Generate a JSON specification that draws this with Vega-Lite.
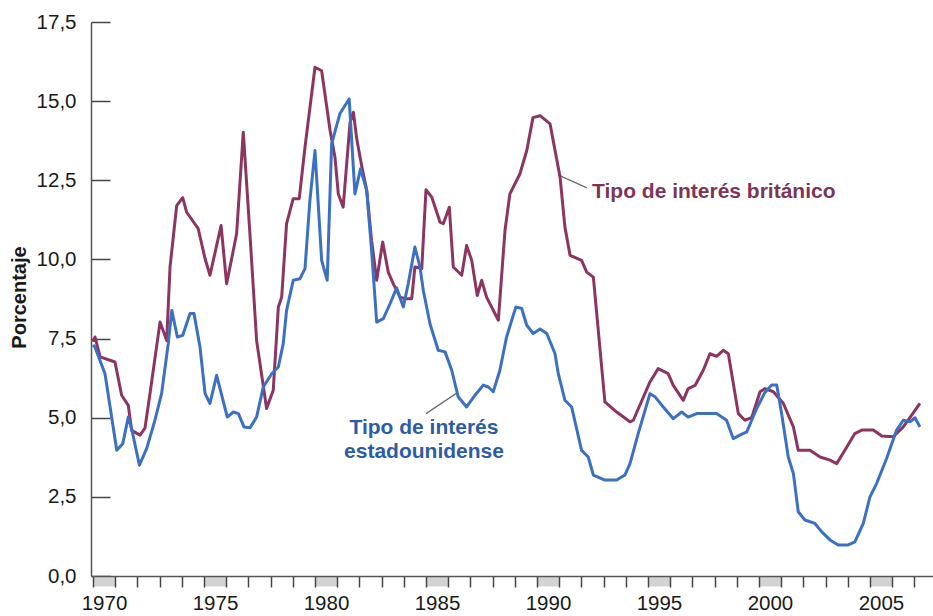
{
  "$schema": "https://vega.github.io/schema/vega-lite/v6.json",
  "width": 842,
  "height": 554,
  "autosize": {"type": "none"},
  "padding": {"left": 91, "top": 22, "right": 0, "bottom": 40},
  "background": "white",
  "config": {"view": {"stroke": null}, "font": "Liberation Sans"},
  "datasets": {
    "bands": [
      {"start": 1970, "end": 1971}, {"start": 1975, "end": 1976}, {"start": 1980, "end": 1981}, {"start": 1985, "end": 1986},
      {"start": 1990, "end": 1991}, {"start": 1995, "end": 1996}, {"start": 2000, "end": 2001}, {"start": 2005, "end": 2006}
    ],
    "rates": [
      {"series":"UK","year":1970.0,"rate":7.4},{"series":"UK","year":1970.09,"rate":7.55},{"series":"UK","year":1970.32,"rate":6.92},{"series":"UK","year":1970.99,"rate":6.76},{"series":"UK","year":1971.29,"rate":5.71},{"series":"UK","year":1971.59,"rate":5.39},{"series":"UK","year":1971.74,"rate":4.6},{"series":"UK","year":1972.12,"rate":4.45},{"series":"UK","year":1972.34,"rate":4.67},{"series":"UK","year":1972.57,"rate":5.77},{"series":"UK","year":1973.02,"rate":8.02},{"series":"UK","year":1973.32,"rate":7.44},{"series":"UK","year":1973.47,"rate":9.76},{"series":"UK","year":1973.77,"rate":11.7},{"series":"UK","year":1974.04,"rate":11.95},{"series":"UK","year":1974.22,"rate":11.49},{"series":"UK","year":1974.74,"rate":10.97},{"series":"UK","year":1975.05,"rate":10.02},{"series":"UK","year":1975.27,"rate":9.5},{"series":"UK","year":1975.77,"rate":11.07},{"series":"UK","year":1976.02,"rate":9.23},{"series":"UK","year":1976.47,"rate":10.81},{"series":"UK","year":1976.77,"rate":14.02},{"series":"UK","year":1977.07,"rate":10.8},{"series":"UK","year":1977.37,"rate":7.44},{"series":"UK","year":1977.82,"rate":5.29},{"series":"UK","year":1978.12,"rate":5.87},{"series":"UK","year":1978.35,"rate":8.5},{"series":"UK","year":1978.5,"rate":8.81},{"series":"UK","year":1978.72,"rate":11.13},{"series":"UK","year":1979.02,"rate":11.92},{"series":"UK","year":1979.29,"rate":11.92},{"series":"UK","year":1979.55,"rate":13.55},{"series":"UK","year":1980.0,"rate":16.07},{"series":"UK","year":1980.3,"rate":15.96},{"series":"UK","year":1980.68,"rate":14.07},{"series":"UK","year":1980.9,"rate":13.23},{"series":"UK","year":1981.05,"rate":12.07},{"series":"UK","year":1981.27,"rate":11.65},{"series":"UK","year":1981.58,"rate":14.33},{"series":"UK","year":1981.73,"rate":14.65},{"series":"UK","year":1981.88,"rate":13.81},{"series":"UK","year":1982.1,"rate":12.97},{"series":"UK","year":1982.33,"rate":12.18},{"series":"UK","year":1982.55,"rate":10.6},{"series":"UK","year":1982.78,"rate":9.34},{"series":"UK","year":1983.05,"rate":10.55},{"series":"UK","year":1983.3,"rate":9.6},{"series":"UK","year":1983.53,"rate":9.23},{"series":"UK","year":1983.83,"rate":8.81},{"series":"UK","year":1984.05,"rate":8.76},{"series":"UK","year":1984.36,"rate":8.76},{"series":"UK","year":1984.5,"rate":9.76},{"series":"UK","year":1984.81,"rate":9.71},{"series":"UK","year":1985.0,"rate":12.2},{"series":"UK","year":1985.26,"rate":11.97},{"series":"UK","year":1985.63,"rate":11.18},{"series":"UK","year":1985.78,"rate":11.13},{"series":"UK","year":1986.05,"rate":11.65},{"series":"UK","year":1986.23,"rate":9.76},{"series":"UK","year":1986.61,"rate":9.5},{"series":"UK","year":1986.83,"rate":10.44},{"series":"UK","year":1987.06,"rate":9.97},{"series":"UK","year":1987.31,"rate":8.86},{"series":"UK","year":1987.51,"rate":9.34},{"series":"UK","year":1987.73,"rate":8.81},{"series":"UK","year":1988.26,"rate":8.08},{"series":"UK","year":1988.56,"rate":10.92},{"series":"UK","year":1988.78,"rate":12.07},{"series":"UK","year":1989.23,"rate":12.7},{"series":"UK","year":1989.54,"rate":13.44},{"series":"UK","year":1989.82,"rate":14.48},{"series":"UK","year":1990.14,"rate":14.54},{"series":"UK","year":1990.59,"rate":14.28},{"series":"UK","year":1991.04,"rate":12.6},{"series":"UK","year":1991.26,"rate":11.02},{"series":"UK","year":1991.49,"rate":10.13},{"series":"UK","year":1992.01,"rate":9.97},{"series":"UK","year":1992.24,"rate":9.6},{"series":"UK","year":1992.54,"rate":9.44},{"series":"UK","year":1993.06,"rate":5.5},{"series":"UK","year":1993.59,"rate":5.18},{"series":"UK","year":1994.19,"rate":4.87},{"series":"UK","year":1994.34,"rate":4.92},{"series":"UK","year":1995.09,"rate":6.13},{"series":"UK","year":1995.46,"rate":6.55},{"series":"UK","year":1995.91,"rate":6.39},{"series":"UK","year":1996.14,"rate":6.02},{"series":"UK","year":1996.59,"rate":5.55},{"series":"UK","year":1996.81,"rate":5.92},{"series":"UK","year":1997.12,"rate":6.02},{"series":"UK","year":1997.49,"rate":6.5},{"series":"UK","year":1997.79,"rate":7.02},{"series":"UK","year":1998.09,"rate":6.94},{"series":"UK","year":1998.39,"rate":7.13},{"series":"UK","year":1998.62,"rate":7.02},{"series":"UK","year":1999.07,"rate":5.13},{"series":"UK","year":1999.37,"rate":4.92},{"series":"UK","year":1999.67,"rate":5.0},{"series":"UK","year":2000.05,"rate":5.82},{"series":"UK","year":2000.27,"rate":5.92},{"series":"UK","year":2000.65,"rate":5.82},{"series":"UK","year":2001.1,"rate":5.45},{"series":"UK","year":2001.55,"rate":4.71},{"series":"UK","year":2001.77,"rate":3.97},{"series":"UK","year":2002.3,"rate":3.97},{"series":"UK","year":2002.75,"rate":3.76},{"series":"UK","year":2003.2,"rate":3.66},{"series":"UK","year":2003.5,"rate":3.55},{"series":"UK","year":2003.87,"rate":3.97},{"series":"UK","year":2004.32,"rate":4.5},{"series":"UK","year":2004.63,"rate":4.61},{"series":"UK","year":2005.15,"rate":4.61},{"series":"UK","year":2005.53,"rate":4.42},{"series":"UK","year":2006.05,"rate":4.4},{"series":"UK","year":2006.5,"rate":4.71},{"series":"UK","year":2006.88,"rate":5.08},{"series":"UK","year":2007.25,"rate":5.45},
      {"series":"US","year":1970.0,"rate":7.3},{"series":"US","year":1970.09,"rate":7.23},{"series":"US","year":1970.54,"rate":6.39},{"series":"US","year":1971.07,"rate":3.97},{"series":"US","year":1971.34,"rate":4.18},{"series":"US","year":1971.59,"rate":5.02},{"series":"US","year":1971.74,"rate":4.66},{"series":"US","year":1972.09,"rate":3.5},{"series":"US","year":1972.42,"rate":4.03},{"series":"US","year":1972.79,"rate":4.92},{"series":"US","year":1973.09,"rate":5.76},{"series":"US","year":1973.39,"rate":7.34},{"series":"US","year":1973.55,"rate":8.39},{"series":"US","year":1973.8,"rate":7.55},{"series":"US","year":1974.04,"rate":7.6},{"series":"US","year":1974.37,"rate":8.29},{"series":"US","year":1974.55,"rate":8.29},{"series":"US","year":1974.82,"rate":7.23},{"series":"US","year":1975.05,"rate":5.76},{"series":"US","year":1975.27,"rate":5.45},{"series":"US","year":1975.57,"rate":6.34},{"series":"US","year":1976.05,"rate":5.02},{"series":"US","year":1976.32,"rate":5.18},{"series":"US","year":1976.55,"rate":5.13},{"series":"US","year":1976.8,"rate":4.71},{"series":"US","year":1977.07,"rate":4.68},{"series":"US","year":1977.37,"rate":5.02},{"series":"US","year":1977.67,"rate":5.97},{"series":"US","year":1978.05,"rate":6.39},{"series":"US","year":1978.35,"rate":6.6},{"series":"US","year":1978.57,"rate":7.34},{"series":"US","year":1978.72,"rate":8.39},{"series":"US","year":1979.02,"rate":9.34},{"series":"US","year":1979.32,"rate":9.39},{"series":"US","year":1979.55,"rate":9.71},{"series":"US","year":1979.77,"rate":11.86},{"series":"US","year":1980.0,"rate":13.44},{"series":"US","year":1980.3,"rate":9.97},{"series":"US","year":1980.55,"rate":9.34},{"series":"US","year":1980.75,"rate":13.65},{"series":"US","year":1981.12,"rate":14.6},{"series":"US","year":1981.54,"rate":15.07},{"series":"US","year":1981.8,"rate":12.07},{"series":"US","year":1982.05,"rate":12.86},{"series":"US","year":1982.33,"rate":12.18},{"series":"US","year":1982.55,"rate":10.28},{"series":"US","year":1982.78,"rate":8.02},{"series":"US","year":1983.08,"rate":8.13},{"series":"US","year":1983.38,"rate":8.6},{"series":"US","year":1983.68,"rate":9.1},{"series":"US","year":1983.98,"rate":8.5},{"series":"US","year":1984.2,"rate":9.23},{"series":"US","year":1984.5,"rate":10.39},{"series":"US","year":1984.73,"rate":9.76},{"series":"US","year":1984.88,"rate":9.02},{"series":"US","year":1985.18,"rate":7.97},{"series":"US","year":1985.55,"rate":7.13},{"series":"US","year":1985.86,"rate":7.08},{"series":"US","year":1986.16,"rate":6.5},{"series":"US","year":1986.45,"rate":5.66},{"series":"US","year":1986.83,"rate":5.34},{"series":"US","year":1987.21,"rate":5.71},{"series":"US","year":1987.58,"rate":6.03},{"series":"US","year":1987.81,"rate":5.97},{"series":"US","year":1988.03,"rate":5.82},{"series":"US","year":1988.33,"rate":6.5},{"series":"US","year":1988.63,"rate":7.55},{"series":"US","year":1989.05,"rate":8.5},{"series":"US","year":1989.31,"rate":8.45},{"series":"US","year":1989.54,"rate":7.92},{"series":"US","year":1989.83,"rate":7.66},{"series":"US","year":1990.14,"rate":7.8},{"series":"US","year":1990.44,"rate":7.66},{"series":"US","year":1990.81,"rate":7.03},{"series":"US","year":1990.96,"rate":6.39},{"series":"US","year":1991.26,"rate":5.55},{"series":"US","year":1991.56,"rate":5.34},{"series":"US","year":1992.01,"rate":3.97},{"series":"US","year":1992.31,"rate":3.76},{"series":"US","year":1992.54,"rate":3.19},{"series":"US","year":1993.06,"rate":3.03},{"series":"US","year":1993.59,"rate":3.03},{"series":"US","year":1993.96,"rate":3.19},{"series":"US","year":1994.19,"rate":3.55},{"series":"US","year":1994.56,"rate":4.5},{"series":"US","year":1995.09,"rate":5.76},{"series":"US","year":1995.32,"rate":5.66},{"series":"US","year":1995.69,"rate":5.34},{"series":"US","year":1996.14,"rate":4.97},{"series":"US","year":1996.52,"rate":5.18},{"series":"US","year":1996.81,"rate":5.02},{"series":"US","year":1997.19,"rate":5.13},{"series":"US","year":1998.09,"rate":5.13},{"series":"US","year":1998.54,"rate":4.92},{"series":"US","year":1998.84,"rate":4.34},{"series":"US","year":1999.14,"rate":4.45},{"series":"US","year":1999.45,"rate":4.55},{"series":"US","year":1999.9,"rate":5.3},{"series":"US","year":2000.27,"rate":5.8},{"series":"US","year":2000.57,"rate":6.03},{"series":"US","year":2000.8,"rate":6.03},{"series":"US","year":2001.02,"rate":5.13},{"series":"US","year":2001.32,"rate":3.76},{"series":"US","year":2001.55,"rate":3.24},{"series":"US","year":2001.77,"rate":2.03},{"series":"US","year":2002.07,"rate":1.77},{"series":"US","year":2002.52,"rate":1.66},{"series":"US","year":2002.82,"rate":1.4},{"series":"US","year":2003.2,"rate":1.14},{"series":"US","year":2003.57,"rate":0.98},{"series":"US","year":2004.02,"rate":0.98},{"series":"US","year":2004.32,"rate":1.08},{"series":"US","year":2004.7,"rate":1.66},{"series":"US","year":2005.0,"rate":2.5},{"series":"US","year":2005.3,"rate":2.92},{"series":"US","year":2005.75,"rate":3.71},{"series":"US","year":2006.2,"rate":4.61},{"series":"US","year":2006.5,"rate":4.92},{"series":"US","year":2006.8,"rate":4.87},{"series":"US","year":2007.03,"rate":5.0},{"series":"US","year":2007.25,"rate":4.71}
    ],
    "labels": [
      {"series": "UK", "year": 1992.48, "rate": 12.13, "text": "Tipo de interés británico"},
      {"series": "US", "year": 1984.91, "rate": 4.67, "text": "Tipo de interés"},
      {"series": "US", "year": 1984.91, "rate": 3.92, "text": "estadounidense"}
    ],
    "leaders": [
      {"year": 1990.95, "rate": 12.67, "year2": 1992.25, "rate2": 12.26},
      {"year": 1985.0, "rate": 5.13, "year2": 1986.35, "rate2": 5.76}
    ]
  },
  "layer": [
    {
      "data": {"name": "bands"},
      "mark": {"type": "rect", "color": "#d3d3d3"},
      "encoding": {
        "x": {"field": "start", "type": "quantitative"},
        "x2": {"field": "end"},
        "y": {"datum": 0, "type": "quantitative"},
        "y2": {"datum": -0.33}
      }
    },
    {
      "data": {"name": "leaders"},
      "mark": {"type": "rule", "color": "#6e6e6e", "strokeWidth": 1.3},
      "encoding": {
        "x": {"field": "year", "type": "quantitative"},
        "y": {"field": "rate", "type": "quantitative"},
        "x2": {"field": "year2"},
        "y2": {"field": "rate2"}
      }
    },
    {
      "data": {"name": "rates"},
      "mark": {"type": "line", "strokeWidth": 3, "strokeJoin": "round"},
      "encoding": {
        "x": {"field": "year", "type": "quantitative"},
        "y": {"field": "rate", "type": "quantitative"},
        "color": {"field": "series", "type": "nominal", "scale": {"domain": ["UK", "US"], "range": ["#8c3561", "#3b70c3"]}, "legend": null}
      }
    },
    {
      "data": {"name": "labels"},
      "transform": [{"filter": "datum.series == 'UK'"}],
      "mark": {"type": "text", "align": "left", "baseline": "middle", "fontSize": 21, "fontWeight": "bold", "color": "#7b3558"},
      "encoding": {
        "x": {"field": "year", "type": "quantitative"},
        "y": {"field": "rate", "type": "quantitative"},
        "text": {"field": "text"}
      }
    },
    {
      "data": {"name": "labels"},
      "transform": [{"filter": "datum.series == 'US'"}],
      "mark": {"type": "text", "align": "center", "baseline": "middle", "fontSize": 21, "fontWeight": "bold", "color": "#2d5ca6"},
      "encoding": {
        "x": {"field": "year", "type": "quantitative"},
        "y": {"field": "rate", "type": "quantitative"},
        "text": {"field": "text"}
      }
    }
  ],
  "encoding": {
    "x": {
      "type": "quantitative",
      "scale": {"domain": [1969.91, 2007.84], "nice": false, "zero": false},
      "axis": {
        "values": [1970,1971,1972,1973,1974,1975,1976,1977,1978,1979,1980,1981,1982,1983,1984,1985,1986,1987,1988,1989,1990,1991,1992,1993,1994,1995,1996,1997,1998,1999,2000,2001,2002,2003,2004,2005,2006,2007],
        "format": "d",
        "labelExpr": "datum.value % 5 == 0 ? datum.label : ''",
        "labelOffset": 11,
        "labelFontSize": 20.5,
        "labelColor": "#1a1a1a",
        "labelPadding": 6,
        "labelFlush": false,
        "labelOverlap": false,
        "tickSize": 11,
        "tickColor": "#444",
        "tickWidth": 1.5,
        "domainColor": "#555",
        "domainWidth": 1.5,
        "grid": false,
        "title": null,
        "zindex": 1
      }
    },
    "y": {
      "type": "quantitative",
      "scale": {"domain": [0, 17.5], "nice": false},
      "axis": {
        "values": [0, 2.5, 5, 7.5, 10, 12.5, 15, 17.5],
        "labelExpr": "replace(format(datum.value, '.1f'), '.', ',')",
        "labelFontSize": 20.5,
        "labelColor": "#1a1a1a",
        "tickSize": -19,
        "labelPadding": 34,
        "tickColor": "#444",
        "tickWidth": 1.5,
        "domainColor": "#555",
        "domainWidth": 1.5,
        "grid": false,
        "title": "Porcentaje",
        "titleFontSize": 20,
        "titleFontWeight": "bold",
        "titleColor": "#1a1a1a",
        "titleAngle": -90,
        "titleAlign": "center",
        "titleBaseline": "middle",
        "titleX": -72,
        "titleY": 275
      }
    }
  }
}
